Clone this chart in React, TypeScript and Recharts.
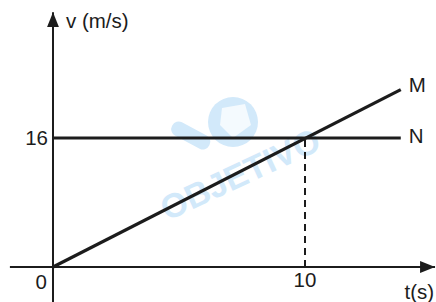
import { LineChart, Line, XAxis, YAxis, ReferenceLine, ReferenceDot } from 'recharts';

// graph data (t in s, v in m/s)
const M_T = [0, 13.8];
const M_V = [0, 22];
const N_T = [0, 13.8];
const N_V = [16, 16];
const T_MEET = 10;
const V_MEET = 16;

const mData = M_T.map((t, i) => ({ t, v: M_V[i] }));
const nData = N_T.map((t, i) => ({ t, v: N_V[i] }));

const INK = '#1c1c1c';
const WM = '#d2e9fa';
const FONT = '"Liberation Sans", Arial, sans-serif';
const FS = 20.5;

const lbl = (value: string, position: any, offset: number, dx = 0, dy = 0) => ({
  value,
  position,
  offset,
  dx,
  dy,
  fill: INK,
  fontSize: FS,
  fontFamily: FONT,
});

// invisible anchor so only the label is drawn
const noDot = () => <g />;

export default function App() {
  return (
    <div style={{ position: 'absolute', left: 0, top: 0, background: '#fff' }}>
      <LineChart width={436} height={302} margin={{ top: 0, right: 0, bottom: 0, left: 0 }}>
        <defs>
          <marker id="arr" markerWidth={16} markerHeight={12} refX={15} refY={6} orient="auto" markerUnits="userSpaceOnUse">
            <path d="M0,0 L15,6 L0,12 z" fill={INK} />
          </marker>
        </defs>
        {/* faint watermark */}
        <g>
          <circle cx={233} cy={122} r={25} fill={WM} />
          <path d="M222,108 L245,104 L251,125 L233,138 L220,125 z" fill="#ffffff" opacity={0.75} />
          <rect x={170} y={128} width={42} height={15} rx={7} fill={WM} transform="rotate(28 191 135)" />
          <text
            x={240}
            y={186}
            textAnchor="middle"
            fontFamily={FONT}
            fontWeight="bold"
            fontSize={34}
            fill={WM}
            transform="rotate(-25 240 174)"
          >
            OBJETIVO
          </text>
        </g>
        <XAxis type="number" dataKey="t" domain={[-2.103, 15.198]} hide allowDataOverflow />
        <YAxis type="number" dataKey="v" domain={[-4.341, 33.116]} hide allowDataOverflow />
        {/* axes */}
        <ReferenceLine
          segment={[{ x: -1.71, y: 0 }, { x: 15.16, y: 0 }]}
          stroke={INK}
          strokeWidth={2}
          markerEnd="url(#arr)"
          ifOverflow="visible"
        />
        <ReferenceLine
          segment={[{ x: 0, y: -4.34 }, { x: 0, y: 31.6 }]}
          stroke={INK}
          strokeWidth={2}
          markerEnd="url(#arr)"
          ifOverflow="visible"
        />
        <ReferenceLine
          segment={[{ x: T_MEET, y: 0 }, { x: T_MEET, y: V_MEET }]}
          stroke={INK}
          strokeWidth={2}
          strokeDasharray="7 5"
        />
        <Line data={nData} dataKey="v" stroke={INK} strokeWidth={3.2} dot={false} activeDot={false} isAnimationActive={false} />
        <Line data={mData} dataKey="v" stroke={INK} strokeWidth={3.2} dot={false} activeDot={false} isAnimationActive={false} />
        <ReferenceDot x={0} y={16} r={0} shape={noDot} label={lbl('16', 'left', 5)} />
        <ReferenceDot x={0} y={0} r={0} shape={noDot} label={lbl('0', 'left', 6, 0, 15)} />
        <ReferenceDot x={T_MEET} y={0} r={0} shape={noDot} label={lbl('10', 'bottom', 5)} />
        <ReferenceDot x={13.95} y={0} r={0} shape={noDot} label={lbl('t(s)', 'right', 0, 0, 25)} />
        <ReferenceDot x={0} y={30.6} r={0} shape={noDot} label={lbl('v (m/s)', 'right', 13)} />
        <ReferenceDot x={M_T[1]} y={M_V[1]} r={0} shape={noDot} label={lbl('M', 'right', 8, 0, -5)} />
        <ReferenceDot x={N_T[1]} y={N_V[1]} r={0} shape={noDot} label={lbl('N', 'right', 8, 0, -2)} />
      </LineChart>
    </div>
  );
}
